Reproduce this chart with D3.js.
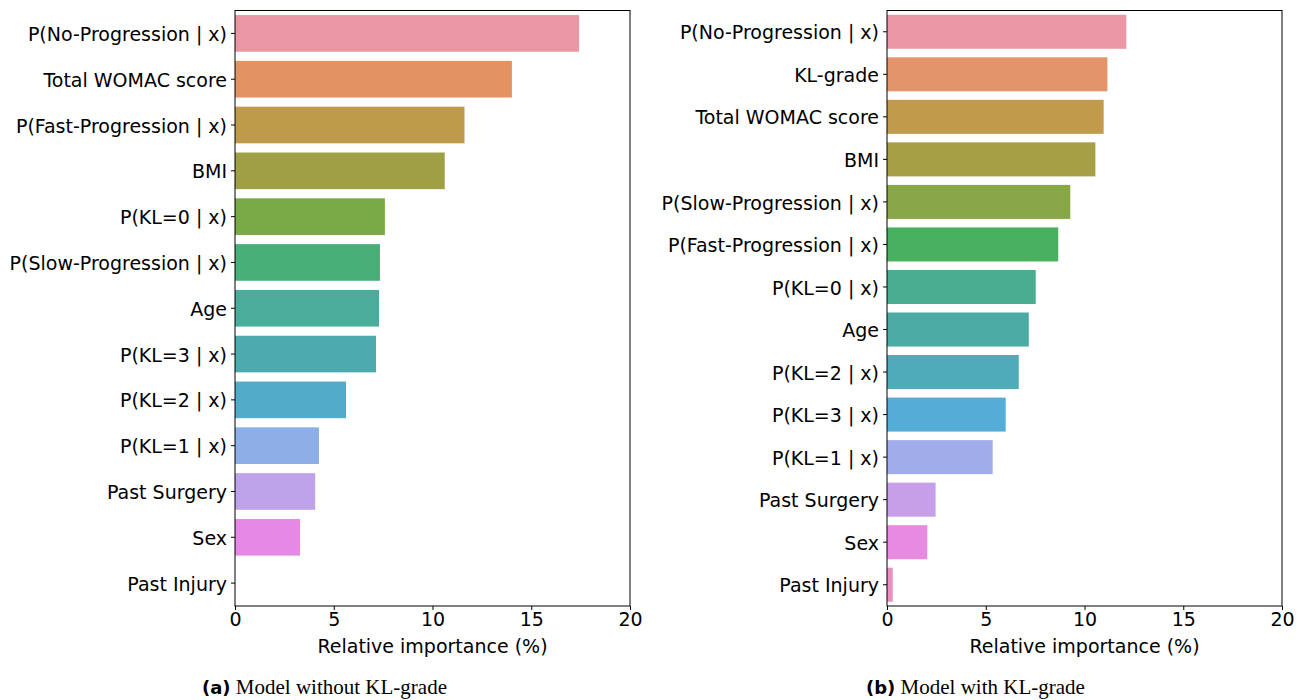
<!DOCTYPE html>
<html>
<head>
<meta charset="utf-8">
<script src="https://cdn.jsdelivr.net/npm/d3@7"></script>
<style>
  html, body { margin: 0; padding: 0; background: #fff; }
  svg text { font-family: "DejaVu Sans", sans-serif; fill: #000; }
</style>
</head>
<body>
<svg id="chart" width="1306" height="700"></svg>
<script>
// Feature importances, model without KL-grade
const featuresA = ["P(No-Progression | x)", "Total WOMAC score", "P(Fast-Progression | x)", "BMI",
  "P(KL=0 | x)", "P(Slow-Progression | x)", "Age", "P(KL=3 | x)", "P(KL=2 | x)", "P(KL=1 | x)",
  "Past Surgery", "Sex", "Past Injury"];
const importanceA = [17.42, 14.02, 11.62, 10.62, 7.59, 7.34, 7.29, 7.14, 5.62, 4.25, 4.06, 3.29, 0.0];

// Feature importances, model with KL-grade
const featuresB = ["P(No-Progression | x)", "KL-grade", "Total WOMAC score", "BMI",
  "P(Slow-Progression | x)", "P(Fast-Progression | x)", "P(KL=0 | x)", "Age", "P(KL=2 | x)",
  "P(KL=3 | x)", "P(KL=1 | x)", "Past Surgery", "Sex", "Past Injury"];
const importanceB = [12.12, 11.16, 10.97, 10.55, 9.28, 8.67, 7.53, 7.18, 6.67, 6.01, 5.35, 2.46, 2.04, 0.29];

const xTicks = [0, 5, 10, 15, 20];
const xLabel = "Relative importance (%)";
const captions = [["(a)", "Model without KL-grade"], ["(b)", "Model with KL-grade"]];

// --- HUSL palette (as used by seaborn) ---------------------------------
const M = [[3.2406, -1.5372, -0.4986], [-0.9689, 1.8758, 0.0415], [0.0557, -0.2040, 1.0570]];
const refU = 0.19784, refV = 0.46834, labE = 0.008856, labK = 903.3;
function maxChroma(L, H) {
  const hr = H * Math.PI / 180, sinH = Math.sin(hr), cosH = Math.cos(hr);
  const sub1 = Math.pow(L + 16, 3) / 1560896.0;
  const sub2 = sub1 > 0.008856 ? sub1 : L / 903.3;
  let result = Infinity;
  for (const [m1, m2, m3] of M) {
    const tp = (0.99915 * m1 + 1.05122 * m2 + 1.14460 * m3) * sub2;
    const rb = 0.86330 * m3 - 0.17266 * m2;
    const lb = 0.12949 * m3 - 0.38848 * m1;
    const bt = (rb * sinH + lb * cosH) * sub2;
    for (const t of [0, 1]) {
      const C = L * (tp - 1.05122 * t) / (bt + 0.17266 * sinH * t);
      if (C > 0 && C < result) result = C;
    }
  }
  return result;
}
function huslToRgb(H, S, L) {
  const C = maxChroma(L, H) / 100 * S;
  const hr = H * Math.PI / 180;
  const U = Math.cos(hr) * C, V = Math.sin(hr) * C;
  const t = (L + 16) / 116;
  const Y = Math.pow(t, 3) > labE ? Math.pow(t, 3) : (116 * t - 16) / labK;
  const vU = U / (13 * L) + refU, vV = V / (13 * L) + refV;
  const X = -(9 * Y * vU) / ((vU - 4) * vV - vU * vV);
  const Z = (9 * Y - 15 * vV * Y - vV * X) / (3 * vV);
  const lin = M.map(r => r[0] * X + r[1] * Y + r[2] * Z);
  const g = lin.map(c => c <= 0.0031308 ? 12.92 * c : 1.055 * Math.pow(c, 1 / 2.4) - 0.055);
  return g.map(c => Math.max(0, Math.min(1, c)));
}
function barPalette(n) {
  const cols = [];
  for (let i = 0; i < n; i++) {
    const h = ((i / n + 0.01) % 1) * 359;
    const [r, g, b] = huslToRgb(h, 0.9 * 99, 0.70 * 99);
    const c = d3.hsl(d3.rgb(r * 255, g * 255, b * 255));
    c.s *= 0.75;
    cols.push(c.formatHex());
  }
  return cols;
}

const svg = d3.select("#chart");
const plotTop = 10.5, plotBottom = 606, plotW = 395;

function panel(left, features, values, caption, capX) {
  const g = svg.append("g");
  const x = d3.scaleLinear().domain([0, 20]).range([left, left + plotW]);
  const y = d3.scaleBand().domain(features).range([plotTop, plotBottom]).paddingInner(0.2).paddingOuter(0.1);
  const colors = barPalette(features.length);

  g.selectAll("rect.bar").data(features).join("rect")
    .attr("class", "bar")
    .attr("x", x(0))
    .attr("y", d => y(d))
    .attr("width", (d, i) => x(values[i]) - x(0))
    .attr("height", y.bandwidth())
    .attr("fill", (d, i) => colors[i]);

  // y axis: tick marks and labels
  const yAxis = g.append("g").attr("transform", `translate(${left},0)`)
    .call(d3.axisLeft(y).tickSize(4).tickPadding(4));
  yAxis.select(".domain").remove();
  yAxis.selectAll("line").attr("stroke", "#000").attr("stroke-width", 1);
  yAxis.selectAll("text").style("font-size", "19px").attr("fill", "#000").attr("dy", "0.4em");

  // x axis
  const xAxis = g.append("g").attr("transform", `translate(0,${plotBottom})`)
    .call(d3.axisBottom(x).tickValues(xTicks).tickFormat(d3.format("d")).tickSize(4).tickPadding(3));
  xAxis.select(".domain").remove();
  xAxis.selectAll("line").attr("stroke", "#000").attr("stroke-width", 1);
  xAxis.selectAll("text").style("font-size", "19px").attr("fill", "#000");

  // frame
  g.append("rect").attr("x", left).attr("y", plotTop).attr("width", plotW).attr("height", plotBottom - plotTop)
    .attr("fill", "none").attr("stroke", "#000").attr("stroke-width", 1);

  g.append("text").attr("x", left + plotW / 2).attr("y", 653)
    .attr("text-anchor", "middle").style("font-size", "19px").text(xLabel);

  const cap = g.append("text").attr("x", capX).attr("y", 694).style("font-size", "18px");
  cap.append("tspan").style("font-weight", "bold").text(caption[0]);
  cap.append("tspan").style("font-family", "'Liberation Serif', 'Times New Roman', serif")
    .style("font-size", "21px").text(" " + caption[1]);
}

panel(235, featuresA, importanceA, captions[0], 202);
panel(887, featuresB, importanceB, captions[1], 866);
</script>
</body>
</html>
